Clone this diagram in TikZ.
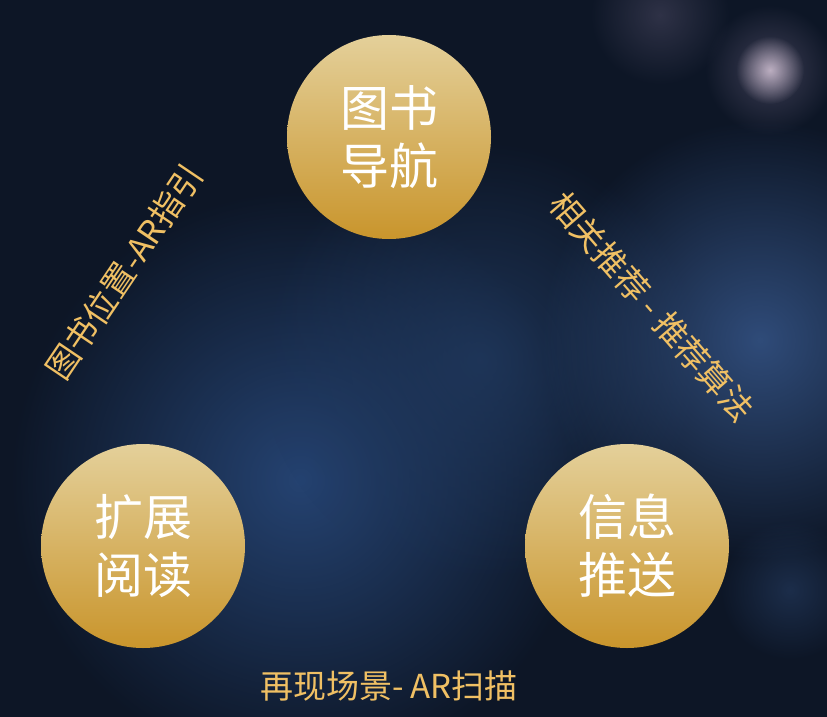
\documentclass[tikz,border=0pt]{standalone}
\usepackage{fontspec}
\setmainfont{Noto Sans CJK SC}
\usetikzlibrary{positioning,fadings}
\definecolor{bgdark}{HTML}{0D1626}
\definecolor{bgblue}{HTML}{2B4E84}
\definecolor{bgsteel}{HTML}{38598E}
\definecolor{bgmid}{HTML}{213A60}
\definecolor{bokeh}{HTML}{D2C2D4}
\definecolor{bokehhalo}{HTML}{6E6684}
\definecolor{goldlight}{HTML}{E4D09A}
\definecolor{goldmid}{HTML}{DBB873}
\definecolor{golddark}{HTML}{C9952C}
\definecolor{labelgold}{HTML}{F0C064}
\tikzfading[name=glowfade, inner color=transparent!0, outer color=transparent!100]
\tikzset{
  glow/.style={path fading=glowfade, fill=#1},
  topic/.style={circle,minimum size=204pt,inner sep=0pt,
    top color=goldlight,middle color=goldmid,bottom color=golddark,
    text=white,align=center,font=\fontsize{49}{58}\selectfont},
  route/.style={text=labelgold,inner sep=0pt,font=\fontsize{33}{35}\selectfont}
}
\begin{document}
\begin{tikzpicture}[x=1pt,y=-1pt]
  % background
  \fill[bgdark] (0,0) rectangle (827,717);
  \useasboundingbox (0,0) rectangle (827,717);
  \fill[glow=bgblue,opacity=0.8] (300,480) circle (290);
  \fill[glow=bgmid,opacity=0.8] (480,360) circle (220);
  \fill[glow=bgsteel,opacity=0.8] (760,340) circle (220);
  \fill[glow=bgsteel,opacity=0.35] (790,590) circle (70);
  \fill[glow=bokehhalo,opacity=0.35] (660,15) circle (70);
  \fill[glow=bokehhalo,opacity=0.5] (770,70) circle (65);
  \fill[glow=bokeh,opacity=0.85] (770,70) circle (34);

  % circles
  \node [topic] (nav) at (389,137) {图书\\导航};
  \node [topic] (read) at (143,546) {扩展\\阅读};
  \node [topic] (push) at (627,546) {信息\\推送};

  % edge labels
  \node [route,rotate=56] (navread) at (124,272) {图书位置-AR指引};
  \node [route,rotate=-49] (navpush) at (652,307) {相关推荐 - 推荐算法};
  \node [route] (readpush) at (389,686) {再现场景- AR扫描};
\end{tikzpicture}
\end{document}
